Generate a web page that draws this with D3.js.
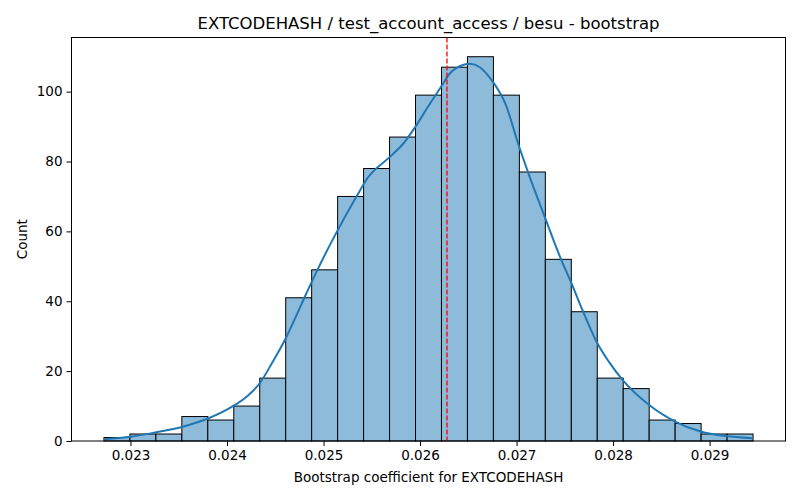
<!DOCTYPE html>
<html>
<head>
<meta charset="utf-8">
<script src="https://cdn.jsdelivr.net/npm/d3@7"></script>
<style>
  body { margin: 0; background: #fff; }
  text { font-family: "DejaVu Sans", sans-serif; }
</style>
</head>
<body>
<svg id="chart" width="800" height="500"></svg>
<script>
// ---- data ----
const title = "EXTCODEHASH / test_account_access / besu - bootstrap";
const xLabel = "Bootstrap coefficient for EXTCODEHASH";
const yLabel = "Count";
const binMin = 0.022725;
const binMax = 0.02945;
const counts = [1, 2, 2, 7, 6, 10, 18, 41, 49, 70, 78, 87, 99, 107, 110, 99, 77, 52, 37, 18, 15, 6, 5, 2, 2];
const kdeX = [0.022732, 0.023, 0.023283, 0.023541, 0.023809, 0.024039, 0.024212, 0.024341, 0.024472, 0.024609,
              0.024713, 0.024798, 0.024937, 0.02514, 0.02534, 0.025454, 0.02569, 0.025832, 0.025953, 0.026074, 0.026211,
              0.026315, 0.026452, 0.026516, 0.026619, 0.026722, 0.026895, 0.027014, 0.027135, 0.02729, 0.027462, 0.027579,
              0.027682, 0.027827, 0.027961, 0.028098, 0.028374, 0.028649, 0.028907, 0.029165, 0.02944];
const kdeY = [0.5, 1.2, 2.6, 4.1, 6.5, 9.6, 12.9, 16.6, 22.6, 29.4,
              35.6, 40.8, 49.0, 60, 69.9, 75.2, 81.4, 85.3, 90.0, 95.3, 101.1,
              105.4, 107.7, 108, 107, 104, 95.8, 85.3, 75.7, 64.3, 51.9, 44.5,
              37.5, 28.5, 22.5, 17.5, 10.3, 5.5, 2.7, 1.4, 0.8];
const meanLine = 0.026279;
const xTicks = [0.023, 0.024, 0.025, 0.026, 0.027, 0.028, 0.029];
const yTicks = [0, 20, 40, 60, 80, 100];

// ---- layout ----
const svg = d3.select("#chart");
const L = 71.5, R = 785.5, T = 37.5, B = 441;
const nb = counts.length;
const bw = (binMax - binMin) / nb;
const bins = counts.map((c, i) => ({ x0: binMin + i * bw, x1: binMin + (i + 1) * bw, c }));
const pad = (binMax - binMin) * 0.05;

const x = d3.scaleLinear().domain([binMin - pad, binMax + pad]).range([L, R]);
const y = d3.scaleLinear().domain([0, d3.max(counts) * 1.05]).range([B, T]);

// bars
svg.append("g").selectAll("rect").data(bins).join("rect")
  .attr("x", d => x(d.x0))
  .attr("y", d => y(d.c))
  .attr("width", d => x(d.x1) - x(d.x0))
  .attr("height", d => y(0) - y(d.c))
  .attr("fill", "#8fbbda")
  .attr("stroke", "#000")
  .attr("stroke-width", 1);

// kde line
const kde = kdeX.map((v, i) => [v, kdeY[i]]);
svg.append("path")
  .datum(kde)
  .attr("fill", "none")
  .attr("stroke", "#1f77b4")
  .attr("stroke-width", 2)
  .attr("d", d3.line().x(d => x(d[0])).y(d => y(d[1])).curve(d3.curveMonotoneX));

// red dashed line
svg.append("line")
  .attr("x1", x(meanLine)).attr("x2", x(meanLine))
  .attr("y1", T).attr("y2", B)
  .attr("stroke", "red")
  .attr("stroke-width", 1.3)
  .attr("stroke-dasharray", "5,2");

// frame
svg.append("rect")
  .attr("x", L).attr("y", T).attr("width", R - L).attr("height", B - T)
  .attr("fill", "none").attr("stroke", "#000").attr("stroke-width", 1);

// axes
const xAxis = svg.append("g").attr("transform", `translate(0,${B})`)
  .call(d3.axisBottom(x).tickValues(xTicks).tickFormat(d3.format(".3f")).tickSizeOuter(0).tickSize(5).tickPadding(4));
const yAxis = svg.append("g").attr("transform", `translate(${L},0)`)
  .call(d3.axisLeft(y).tickValues(yTicks).tickSizeOuter(0).tickSize(5).tickPadding(4));
[xAxis, yAxis].forEach(g => {
  g.select(".domain").remove();
  g.selectAll("text").attr("font-size", 13.5).attr("fill", "#000").style("font-family", "DejaVu Sans");
  g.selectAll("line").attr("stroke", "#000");
});

// labels
svg.append("text").attr("x", (L + R) / 2).attr("y", 29)
  .attr("text-anchor", "middle").attr("font-size", 16.5).text(title);
svg.append("text").attr("x", (L + R) / 2).attr("y", 482)
  .attr("text-anchor", "middle").attr("font-size", 13.5).text(xLabel);
svg.append("text").attr("transform", `translate(27,${(T + B) / 2}) rotate(-90)`)
  .attr("text-anchor", "middle").attr("font-size", 13.5).text(yLabel);
</script>
</body>
</html>
